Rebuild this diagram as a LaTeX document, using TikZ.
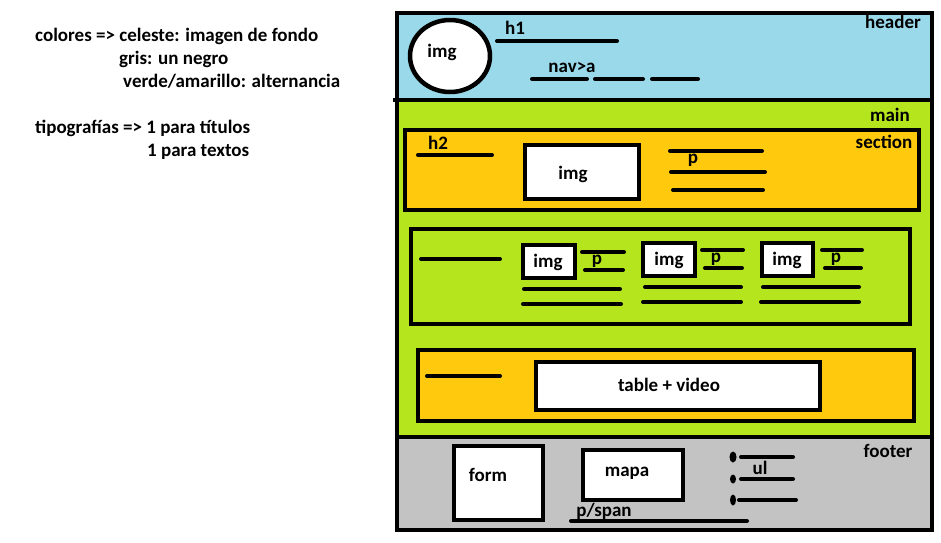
\documentclass[tikz,border=0pt]{standalone}
\usepackage{fontspec}
\setmainfont{Carlito}
\definecolor{hblue}{HTML}{99D9EA}
\definecolor{mgreen}{HTML}{B5E61D}
\definecolor{sorange}{HTML}{FFC90E}
\definecolor{fgray}{HTML}{C3C3C3}
\begin{document}
\begin{tikzpicture}[x=1pt,y=-1pt,
  frame/.style={line width=4.5pt},
  bar/.style={line width=4pt, line cap=round},
  wbox/.style={line width=4.5pt, fill=white},
  lbl/.style={font=\bfseries\fontsize{19}{23}\selectfont, inner sep=0pt},
  note/.style={font=\bfseries\fontsize{19}{23}\selectfont, inner sep=0pt, anchor=base west}]
\useasboundingbox (0,0) rectangle (941,542);
% notes
\node[note] (n1) at (35,41) {colores => celeste: imagen de fondo};
\node[note] (n2) at (119,64) {gris: un negro};
\node[note] (n3) at (123,87) {verde/amarillo: alternancia};
\node[note] (n4) at (35,133) {tipografías => 1 para títulos};
\node[note] (n5) at (147,156) {1 para textos};
% regions
\fill[hblue] (397,13) rectangle (932,100);
\fill[mgreen] (397,100) rectangle (932,437);
\fill[fgray] (397,437) rectangle (932,530);
\draw[frame] (397,13) rectangle (932,530);
\draw[frame] (393,100) -- (932,100);
\draw[frame] (397,437) -- (932,437);
% header
\draw[frame, fill=white] (450,56) ellipse (40 and 36);
\node[lbl] (himg) at (442,52) {img};
\node[lbl] (hdr) at (893,22) {header};
\node[lbl] (h1) at (515,28) {h1};
\draw[bar] (497,41) -- (617,41);
\node[lbl] (nav) at (572,67) {nav>a};
\draw[bar] (532,79) -- (587,79);
\draw[bar] (595,79) -- (643,79);
\draw[bar] (652,79) -- (698,79);
% main
\node[lbl] (mainl) at (890,115) {main};
\draw[frame, fill=sorange] (405,130) rectangle (919,210);
\node[lbl] (secl) at (884,142) {section};
\node[lbl] (h2) at (438,143) {h2};
\draw[bar] (418,155) -- (492,155);
\draw[wbox] (525,145) rectangle (639,199);
\node[lbl] (simg) at (573,174) {img};
\draw[bar] (670,151) -- (762,151);
\draw[bar] (671,172) -- (765,172);
\draw[bar] (673,190) -- (763,190);
\node[lbl] (sp) at (693,160) {p};
% row of three
\draw[frame] (411,229) rectangle (910,324);
\draw[bar] (421,259) -- (500,259);
\draw[wbox] (523,245) rectangle (575,278);
\node[lbl] (i1) at (548,262) {img};
\draw[wbox] (643,243) rectangle (695,276);
\node[lbl] (i2) at (669,260) {img};
\draw[wbox] (762,243) rectangle (813,276);
\node[lbl] (i3) at (787,260) {img};
\draw[bar] (582,252) -- (624,252);
\draw[bar] (585,270) -- (623,270);
\node[lbl] (p1) at (597,261) {p};
\draw[bar] (702,250) -- (743,250);
\draw[bar] (705,268) -- (742,268);
\node[lbl] (p2) at (716,259) {p};
\draw[bar] (822,250) -- (862,250);
\draw[bar] (825,268) -- (861,268);
\node[lbl] (p3) at (836,259) {p};
\draw[bar] (524,289) -- (620,289);
\draw[bar] (523,304) -- (621,304);
\draw[bar] (645,287) -- (741,287);
\draw[bar] (643,302) -- (741,302);
\draw[bar] (763,287) -- (859,287);
\draw[bar] (761,302) -- (859,302);
% table + video
\draw[frame, fill=sorange] (418,350) rectangle (914,421);
\draw[bar] (427,376) -- (500,376);
\draw[wbox] (536,362) rectangle (820,410);
\node[lbl] (tv) at (669,385) {table + video};
% footer
\node[lbl] (ftr) at (888,451) {footer};
\draw[wbox] (454,446) rectangle (543,520);
\node[lbl] (form) at (488,475) {form};
\draw[wbox] (583,450) rectangle (683,500);
\node[lbl] (mapa) at (627,473) {mapa};
\fill (733,457) ellipse (3.5 and 5.5);
\fill (733,479) ellipse (3 and 4.5);
\fill (733,500) ellipse (3 and 5.5);
\draw[bar] (741,457) -- (793,457);
\draw[bar] (741,479) -- (793,479);
\draw[bar] (739,500) -- (796,500);
\node[lbl] (ul) at (760,468) {ul};
\node[lbl] (ps) at (604,511) {p/span};
\draw[bar] (571,521) -- (747,521);
\end{tikzpicture}
\end{document}
